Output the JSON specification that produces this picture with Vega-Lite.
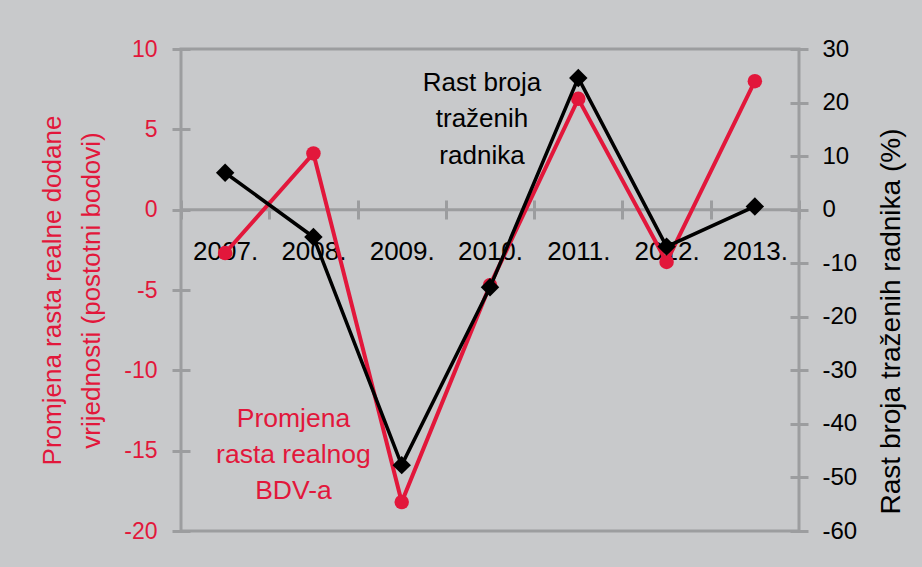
{
  "$schema": "https://vega.github.io/schema/vega-lite/v6.json",
  "width": 618,
  "height": 482,
  "autosize": "none",
  "padding": {"left": 181, "top": 49, "right": 123, "bottom": 36},
  "background": "#c8c9cb",
  "config": {
    "view": {"stroke": "#9c9d9f", "strokeWidth": 3},
    "font": "Liberation Sans",
    "axis": {"grid": false, "labelFont": "Liberation Sans", "titleFont": "Liberation Sans", "titleFontWeight": "normal"}
  },
  "data": {
    "values": [
      {"year": "2007.", "bdv": -2.7, "radnici": 6.9},
      {"year": "2008.", "bdv": 3.5, "radnici": -5.1},
      {"year": "2009.", "bdv": -18.2, "radnici": -47.7},
      {"year": "2010.", "bdv": -4.7, "radnici": -14.5},
      {"year": "2011.", "bdv": 6.9, "radnici": 24.6},
      {"year": "2012.", "bdv": -3.25, "radnici": -6.9},
      {"year": "2013.", "bdv": 8.0, "radnici": 0.6}
    ]
  },
  "layer": [
    {
      "layer": [
        {
          "data": {"values": [{}]},
          "mark": {"type": "rule", "color": "#9c9d9f", "strokeWidth": 3},
          "encoding": {"y": {"datum": 0, "type": "quantitative"}}
        },
        {
          "mark": {"type": "line", "color": "#e2173b", "strokeWidth": 4},
          "encoding": {
            "x": {
              "field": "year", "type": "ordinal", "bandPosition": 0.5,
              "scale": {"type": "band", "paddingInner": 0, "paddingOuter": 0, "domain": ["2007.", "2008.", "2009.", "2010.", "2011.", "2012.", "2013."]},
              "axis": {
                "orient": "bottom", "offset": -331, "domain": false, "tickBand": "extent",
                "tickSize": 19, "tickColor": "#9c9d9f", "tickWidth": 3,
                "labelColor": "#000000", "labelFontSize": 26, "labelPadding": 19, "labelAngle": 0, "title": null
              }
            },
            "y": {
              "field": "bdv", "type": "quantitative",
              "scale": {"domain": [-20, 10], "nice": false, "zero": false},
              "axis": {
                "orient": "left", "values": [-20, -15, -10, -5, 0, 5, 10], "domain": false, "offset": -9,
                "tickSize": 18, "tickColor": "#9c9d9f", "tickWidth": 3,
                "labelExpr": "'' + datum.value",
                "labelColor": "#e2173b", "labelFontSize": 23, "labelPadding": 15,
                "title": ["Promjena rasta realne dodane", "vrijednosti (postotni bodovi)"],
                "titleColor": "#e2173b", "titleFontSize": 26, "titleLineHeight": 39, "titlePadding": 19
              }
            }
          }
        },
        {
          "mark": {"type": "point", "shape": "circle", "filled": true, "opacity": 1, "size": 210, "color": "#e2173b"},
          "encoding": {
            "x": {"field": "year", "type": "ordinal", "bandPosition": 0.5},
            "y": {"field": "bdv", "type": "quantitative"}
          }
        },
        {
          "data": {"values": [{}]},
          "mark": {"type": "text", "text": ["Promjena", "rasta realnog", "BDV-a"], "color": "#e2173b", "fontSize": 26.5, "lineHeight": 36, "align": "center", "baseline": "middle", "dx": -20},
          "encoding": {
            "x": {"datum": "2008.", "type": "ordinal", "bandPosition": 0.5},
            "y": {"datum": -13.0, "type": "quantitative"}
          }
        },
        {
          "data": {"values": [{}]},
          "mark": {"type": "text", "text": ["Rast broja", "traženih", "radnika"], "color": "#000000", "fontSize": 26, "lineHeight": 36.5, "align": "center", "baseline": "middle", "dx": -8},
          "encoding": {
            "x": {"datum": "2010.", "type": "ordinal", "bandPosition": 0.5},
            "y": {"datum": 7.9, "type": "quantitative"}
          }
        }
      ]
    },
    {
      "layer": [
        {
          "mark": {"type": "line", "color": "#000000", "strokeWidth": 3.5},
          "encoding": {
            "x": {"field": "year", "type": "ordinal", "bandPosition": 0.5},
            "y": {
              "field": "radnici", "type": "quantitative",
              "scale": {"domain": [-60, 30], "nice": false, "zero": false},
              "axis": {
                "orient": "right", "values": [-60, -50, -40, -30, -20, -10, 0, 10, 20, 30], "domain": false, "offset": -9,
                "tickSize": 18, "tickColor": "#9c9d9f", "tickWidth": 3,
                "labelExpr": "'' + datum.value",
                "labelColor": "#000000", "labelFontSize": 24, "labelPadding": 14,
                "title": "Rast broja traženih radnika (%)",
                "titleColor": "#000000", "titleFontSize": 28, "titleAngle": 270, "titleBaseline": "top", "titlePadding": 21, "titleY": 272
              }
            }
          }
        },
        {
          "mark": {"type": "point", "shape": "diamond", "filled": true, "opacity": 1, "size": 340, "color": "#000000"},
          "encoding": {
            "x": {"field": "year", "type": "ordinal", "bandPosition": 0.5},
            "y": {"field": "radnici", "type": "quantitative"}
          }
        }
      ]
    }
  ],
  "resolve": {"scale": {"y": "independent"}}
}
